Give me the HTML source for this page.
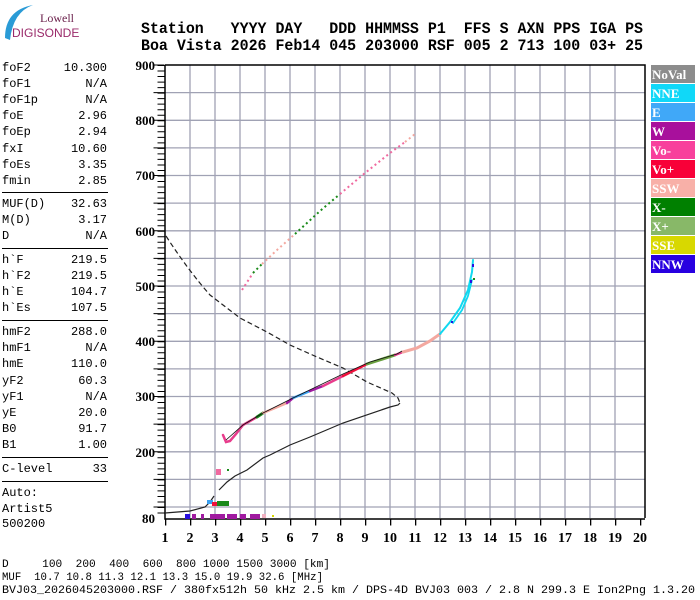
<!DOCTYPE html>
<html><head><meta charset="utf-8"><style>
html,body{margin:0;padding:0;background:#fff;}
svg{display:block;}
.m{font-family:"Liberation Mono",monospace;}
</style></head><body>
<svg width="700" height="600" viewBox="0 0 700 600" xmlns="http://www.w3.org/2000/svg">
<rect width="700" height="600" fill="#fff"/>
<!-- logo -->
<path d="M5 38 Q5 10 33 5 Q13 12 10 40 Z" fill="#2a9bd6"/>
<text x="40" y="22" font-family="Liberation Serif,serif" font-size="12" fill="#6a1f4a">Lowell</text>
<text x="12" y="37" font-family="Liberation Sans,sans-serif" font-size="12" fill="#9a2a6a">DIGISONDE</text>
<!-- header -->
<g class="m" font-weight="bold" font-size="16" fill="#000">
<text x="141" y="33" textLength="502" lengthAdjust="spacingAndGlyphs" xml:space="preserve">Station   YYYY DAY   DDD HHMMSS P1  FFS S AXN PPS IGA PS</text>
<text x="141" y="50" textLength="502" lengthAdjust="spacingAndGlyphs" xml:space="preserve">Boa Vista 2026 Feb14 045 203000 RSF 005 2 713 100 03+ 25</text>
</g>
<!-- left panel -->
<g class="m" font-size="12" fill="#000">
<text x="2" y="71">foF2</text><text x="107" y="71" text-anchor="end">10.300</text>
<text x="2" y="87">foF1</text><text x="107" y="87" text-anchor="end">N/A</text>
<text x="2" y="103">foF1p</text><text x="107" y="103" text-anchor="end">N/A</text>
<text x="2" y="119">foE</text><text x="107" y="119" text-anchor="end">2.96</text>
<text x="2" y="135">foEp</text><text x="107" y="135" text-anchor="end">2.94</text>
<text x="2" y="152">fxI</text><text x="107" y="152" text-anchor="end">10.60</text>
<text x="2" y="168">foEs</text><text x="107" y="168" text-anchor="end">3.35</text>
<text x="2" y="184">fmin</text><text x="107" y="184" text-anchor="end">2.85</text>
<text x="2" y="207">MUF(D)</text><text x="107" y="207" text-anchor="end">32.63</text>
<text x="2" y="223">M(D)</text><text x="107" y="223" text-anchor="end">3.17</text>
<text x="2" y="239">D</text><text x="107" y="239" text-anchor="end">N/A</text>
<text x="2" y="263">h`F</text><text x="107" y="263" text-anchor="end">219.5</text>
<text x="2" y="279">h`F2</text><text x="107" y="279" text-anchor="end">219.5</text>
<text x="2" y="295">h`E</text><text x="107" y="295" text-anchor="end">104.7</text>
<text x="2" y="311">h`Es</text><text x="107" y="311" text-anchor="end">107.5</text>
<text x="2" y="335">hmF2</text><text x="107" y="335" text-anchor="end">288.0</text>
<text x="2" y="351">hmF1</text><text x="107" y="351" text-anchor="end">N/A</text>
<text x="2" y="367">hmE</text><text x="107" y="367" text-anchor="end">110.0</text>
<text x="2" y="384">yF2</text><text x="107" y="384" text-anchor="end">60.3</text>
<text x="2" y="400">yF1</text><text x="107" y="400" text-anchor="end">N/A</text>
<text x="2" y="416">yE</text><text x="107" y="416" text-anchor="end">20.0</text>
<text x="2" y="432">B0</text><text x="107" y="432" text-anchor="end">91.7</text>
<text x="2" y="448">B1</text><text x="107" y="448" text-anchor="end">1.00</text>
<text x="2" y="472">C-level</text><text x="107" y="472" text-anchor="end">33</text>
<text x="2" y="496">Auto:</text>
<text x="2" y="512">Artist5</text>
<text x="2" y="527">500200</text>
</g>
<g stroke="#000" stroke-width="1">
<line x1="2" y1="192.5" x2="108" y2="192.5"/>
<line x1="2" y1="248.5" x2="108" y2="248.5"/>
<line x1="2" y1="320.5" x2="108" y2="320.5"/>
<line x1="2" y1="457.5" x2="108" y2="457.5"/>
<line x1="2" y1="481.5" x2="108" y2="481.5"/>
</g>
<!-- grid -->
<g stroke="#a0a2b4" stroke-width="1.3">
<path d="M190 65V518M215 65V518M240 65V518M265 65V518M290 65V518M315 65V518M340 65V518M365 65V518M390 65V518M415 65V518M440 65V518M465 65V518M490 65V518M515 65V518M540 65V518M565 65V518M590 65V518M615 65V518"/>
<path d="M165 92.6H645M165 120.3H645M165 147.9H645M165 175.5H645M165 203.1H645M165 230.8H645M165 258.4H645M165 286H645M165 313.6H645M165 341.3H645M165 368.9H645M165 396.5H645M165 424.1H645M165 451.8H645M165 479.4H645M165 507H645"/>
</g>
<!-- frame -->
<path d="M165 65H645V518" fill="none" stroke="#000" stroke-width="1.5"/>
<path d="M165 65V519H645" fill="none" stroke="#000" stroke-width="1.5"/>
<!-- ticks -->
<line x1="161" y1="65" x2="161" y2="518" stroke="#000" stroke-width="7" stroke-dasharray="1 4.525"/>
<line x1="159" y1="64.5" x2="159" y2="520" stroke="#000" stroke-width="11" stroke-dasharray="1 26.625"/>
<line x1="165" y1="522" x2="646" y2="522" stroke="#000" stroke-width="7" stroke-dasharray="1.3 23.7"/>
<!-- y labels -->
<g font-family="Liberation Serif,serif" font-weight="bold" font-size="13" text-anchor="end" fill="#000">
<text x="155" y="70">900</text><text x="155" y="125">800</text><text x="155" y="180">700</text>
<text x="155" y="236">600</text><text x="155" y="291">500</text><text x="155" y="346">400</text>
<text x="155" y="401">300</text><text x="155" y="457">200</text><text x="155" y="523">80</text>
</g>
<g font-family="Liberation Serif,serif" font-weight="bold" font-size="14" text-anchor="middle" fill="#000">
<text x="165" y="542">1</text><text x="190" y="542">2</text><text x="215" y="542">3</text><text x="240" y="542">4</text><text x="265" y="542">5</text><text x="290" y="542">6</text><text x="315" y="542">7</text><text x="340" y="542">8</text><text x="365" y="542">9</text><text x="390" y="542">10</text><text x="415" y="542">11</text><text x="440" y="542">12</text><text x="465" y="542">13</text><text x="490" y="542">14</text><text x="515" y="542">15</text><text x="540" y="542">16</text><text x="565" y="542">17</text><text x="590" y="542">18</text><text x="615" y="542">19</text><text x="640" y="542">20</text>
</g>
<!-- curves -->
<path d="M166 236 Q188 270 210 295 L240 318 L267 332 L290 345 L317 357 L343 368 L367 382 L392 393 L398 398 L400 403" fill="none" stroke="#222" stroke-width="1.2" stroke-dasharray="5 3"/>
<path d="M400 403 L398 405 L390 407 L343 423 L310 437 L290 445 L270 455 L263 458 L247 470 L235 476 L227 482 L219 490 M214 496 L210 502 L205 507 L190 511 L165 513" fill="none" stroke="#222" stroke-width="1.2"/>
<!-- F trace -->
<g fill="none" stroke-width="2.5" stroke-linecap="round">
<path d="M223 435 L226 442 L230 441 L236 434 L243 425 L257 417" stroke="#e83c8c"/>
<path d="M257 417 L263 413" stroke="#1a8a1a" stroke-width="3"/>
<path d="M263 413 L287 403" stroke="#f3a8a0"/>
<path d="M287 403 L293 398" stroke="#a01aa0"/>
<path d="M293 398 L310 391" stroke="#3aa0f0"/>
<path d="M310 391 L323 386" stroke="#a01aa0"/>
<path d="M323 386 L343 376" stroke="#e83c8c"/>
<path d="M343 376 L367 364" stroke="#f0103c"/>
<path d="M367 364 L395 355" stroke="#6aa040" stroke-width="3"/>
<path d="M395 355 L403 352" stroke="#e83c8c"/>
<path d="M403 352 L417 348 L430 341 L440 334" stroke="#f3a8a0" stroke-width="3"/>
<path d="M440 334 L450 322 L460 308 L468 290 L472 272 L473 260" stroke="#10d8f0" stroke-width="2"/>
<path d="M453 323 L462 310 L468 296 L472 280" stroke="#10d8f0" stroke-width="1.8"/>
</g>
<path d="M226 440 L243 425 L263 413 L293 398 L343 374 L370 362 L397 354 L402 351" fill="none" stroke="#111" stroke-width="0.8"/>
<g>
<rect x="472" y="264" width="2" height="3" fill="#2a10e0"/>
<rect x="470" y="280" width="2" height="3" fill="#2a10e0"/>
<rect x="473" y="278" width="2" height="2" fill="#1a8a1a"/>
<rect x="451" y="321" width="2" height="2" fill="#2a10e0"/>
</g>
<!-- upper echo -->
<g fill="none" stroke-width="2" stroke-dasharray="2 3">
<path d="M242 290 L253 273" stroke="#f06aa0"/>
<path d="M253 273 L262 264" stroke="#1a8a1a"/>
<path d="M262 264 L277 250 L295 234" stroke="#f3a8a0"/>
<path d="M295 234 L320 211 L340 194" stroke="#1a8a1a"/>
<path d="M340 194 L365 173 L390 153 L405 142" stroke="#f06aa0"/>
<path d="M405 142 L415 134" stroke="#f3a8a0"/>
</g>
<!-- E layer -->
<g>
<rect x="207" y="500" width="6" height="4" fill="#3aa0f0"/>
<rect x="212" y="502" width="5" height="4" fill="#f0103c"/>
<rect x="217" y="501" width="12" height="5" fill="#1a8a1a"/>
<rect x="216" y="469" width="5" height="6" fill="#f06aa0"/>
<rect x="227" y="469" width="2" height="2" fill="#1a8a1a"/>
<rect x="185" y="514" width="5" height="5" fill="#2a10e0"/>
<rect x="192" y="514" width="4" height="5" fill="#a01aa0"/>
<rect x="201" y="514" width="3" height="5" fill="#a01aa0"/>
<rect x="210" y="514" width="15" height="5" fill="#a01aa0"/>
<rect x="227" y="514" width="10" height="5" fill="#a01aa0"/>
<rect x="240" y="514" width="6" height="5" fill="#a01aa0"/>
<rect x="250" y="514" width="10" height="5" fill="#a01aa0"/>
<rect x="262" y="514" width="4" height="4" fill="#f0b0c0"/>
<rect x="272" y="515" width="2" height="2" fill="#d8d800"/>
</g>
<!-- legend -->
<g font-family="Liberation Serif,serif" font-weight="bold" font-size="13" fill="#fff">
<rect x="651" y="65" width="44" height="18" fill="#8c8c8c"/><text x="652" y="79">NoVal</text>
<rect x="651" y="84" width="44" height="18" fill="#10d8f8"/><text x="652" y="98">NNE</text>
<rect x="651" y="103" width="44" height="18" fill="#40a8f8"/><text x="652" y="117">E</text>
<rect x="651" y="122" width="44" height="18" fill="#a8109c"/><text x="652" y="136">W</text>
<rect x="651" y="141" width="44" height="18" fill="#f8409c"/><text x="652" y="155">Vo-</text>
<rect x="651" y="160" width="44" height="18" fill="#f80038"/><text x="652" y="174">Vo+</text>
<rect x="651" y="179" width="44" height="18" fill="#f8b0a8"/><text x="652" y="193">SSW</text>
<rect x="651" y="198" width="44" height="18" fill="#008000"/><text x="652" y="212">X-</text>
<rect x="651" y="217" width="44" height="18" fill="#88b868"/><text x="652" y="231">X+</text>
<rect x="651" y="236" width="44" height="18" fill="#d8d800"/><text x="652" y="250">SSE</text>
<rect x="651" y="255" width="44" height="18" fill="#2800e0"/><text x="652" y="269">NNW</text>
</g>
<!-- bottom -->
<g class="m" font-size="11" fill="#000">
<text x="2" y="567" textLength="328" lengthAdjust="spacingAndGlyphs" xml:space="preserve">D     100  200  400  600  800 1000 1500 3000 [km]</text>
<text x="2" y="580" textLength="321" lengthAdjust="spacingAndGlyphs" xml:space="preserve">MUF  10.7 10.8 11.3 12.1 13.3 15.0 19.9 32.6 [MHz]</text>
<text x="2" y="593" textLength="693" lengthAdjust="spacingAndGlyphs" xml:space="preserve">BVJ03_2026045203000.RSF / 380fx512h 50 kHz 2.5 km / DPS-4D BVJ03 003 / 2.8 N 299.3 E Ion2Png 1.3.20</text>
</g>
</svg>
</body></html>
